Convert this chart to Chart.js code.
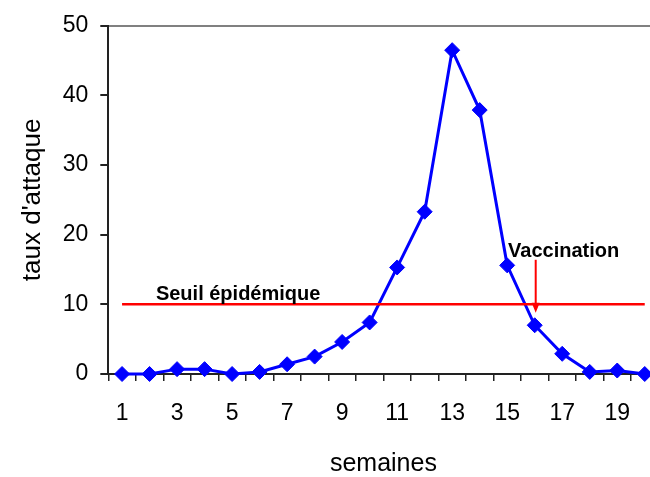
<!DOCTYPE html>
<html>
<head>
<meta charset="utf-8">
<script src="https://cdn.jsdelivr.net/npm/chart.js@4"></script>
<style>
  html, body { margin: 0; padding: 0; overflow: hidden; background: #fff; width: 650px; height: 477px; }
  #clip { width: 650px; height: 477px; overflow: hidden; position: relative; }
  #wrap { width: 670px; height: 477px; position: absolute; left: 0; top: 0; }
</style>
</head>
<body>
<div id="clip"><div id="wrap"><canvas id="c"></canvas></div></div>
<script>
// ---- data ----
const weeks = ['1','2','3','4','5','6','7','8','9','10','11','12','13','14','15','16','17','18','19','20'];
const attackRate = [0, 0, 0.7, 0.7, 0, 0.3, 1.4, 2.5, 4.6, 7.4, 15.3, 23.3, 46.5, 37.9, 15.6, 7.0, 2.9, 0.3, 0.5, 0];
const epidemicThreshold = [10, 10, 10, 10, 10, 10, 10, 10, 10, 10, 10, 10, 10, 10, 10, 10, 10, 10, 10, 10];
const xTickLabels = ['1','3','5','7','9','11','13','15','17','19'];
const yTickValues = [0, 10, 20, 30, 40, 50];
const xTitle = 'semaines';
const yTitle = "taux d'attaque";
const thresholdLabel = 'Seuil épidémique';
const vaccinationLabel = 'Vaccination';
const vaccinationWeek = '16';

// ---- annotation plugin (uses chart scales) ----
const annotations = {
  id: 'annotations',
  afterDatasetsDraw(chart) {
    const x = chart.scales.x, y = chart.scales.y, ctx = chart.ctx;
    ctx.save();
    ctx.fillStyle = '#000';
    ctx.font = 'bold 20px "Liberation Sans", Arial, sans-serif';
    ctx.textAlign = 'left';
    ctx.textBaseline = 'middle';
    ctx.fillText(thresholdLabel, x.getPixelForValue(1.23), y.getPixelForValue(11.4));
    ctx.fillText(vaccinationLabel, x.getPixelForValue(14.03), y.getPixelForValue(17.55));
    // arrow
    const vi = weeks.indexOf(vaccinationWeek);
    const ax = x.getPixelForValue(vi) + 1;
    const y0 = y.getPixelForValue(16.4), y1 = y.getPixelForValue(8.8);
    ctx.strokeStyle = '#ff0000';
    ctx.fillStyle = '#ff0000';
    ctx.lineWidth = 2;
    ctx.beginPath();
    ctx.moveTo(ax, y0);
    ctx.lineTo(ax, y1 - 8);
    ctx.stroke();
    ctx.beginPath();
    ctx.moveTo(ax - 4, y1 - 10);
    ctx.lineTo(ax + 4, y1 - 10);
    ctx.lineTo(ax, y1);
    ctx.closePath();
    ctx.fill();
    ctx.restore();
  }
};

Chart.defaults.color = '#000';
Chart.defaults.font.family = '"Liberation Sans", Arial, sans-serif';

new Chart(document.getElementById('c'), {
  type: 'line',
  data: {
    labels: weeks,
    datasets: [
      {
        label: 'Seuil',
        data: epidemicThreshold,
        borderColor: '#ff0000',
        borderWidth: 2.5,
        pointRadius: 0,
        fill: false,
        tension: 0
      },
      {
        label: 'taux',
        data: attackRate,
        borderColor: '#0000ff',
        backgroundColor: '#0000ff',
        borderWidth: 3,
        pointStyle: 'rectRot',
        pointRadius: 7.5,
        pointBorderWidth: 1,
        pointBackgroundColor: '#0000ff',
        pointBorderColor: '#0000ff',
        fill: false,
        tension: 0,
        clip: false
      }
    ]
  },
  options: {
    responsive: true,
    maintainAspectRatio: false,
    animation: false,
    layout: { padding: { top: 20, right: 11.5, bottom: 0, left: 0 } },
    plugins: { legend: { display: false }, tooltip: { enabled: false } },
    scales: {
      x: {
        type: 'category',
        offset: true,
        afterFit(s) { s.height = 103; },
        grid: { offset: true, drawOnChartArea: false, tickLength: 7, tickColor: '#222', lineWidth: 1.5 },
        border: { color: '#222', width: 2 },
        ticks: {
          autoSkip: false, maxRotation: 0, padding: 19,
          font: { size: 23 },
          callback(v, i) { const l = weeks[i]; return xTickLabels.includes(l) ? l : ''; }
        },
        title: { display: true, text: xTitle, font: { size: 25, lineHeight: 1 }, padding: { top: 0, bottom: 0 } }
      },
      y: {
        min: 0, max: 50,
        afterFit(s) { s.width = 108.3; },
        afterBuildTicks(s) { s.ticks = yTickValues.map(v => ({ value: v })); },
        grid: {
          color: (c) => (c.tick && c.tick.value === 50 ? '#808080' : 'rgba(0,0,0,0)'),
          lineWidth: 2, tickLength: 8, tickColor: '#222'
        },
        border: { color: '#222', width: 2 },
        ticks: { padding: 12, font: { size: 23 } },
        title: { display: true, text: yTitle, font: { size: 26 }, padding: { top: 17, bottom: 0 } }
      }
    }
  },
  plugins: [annotations]
});
</script>
</body>
</html>
